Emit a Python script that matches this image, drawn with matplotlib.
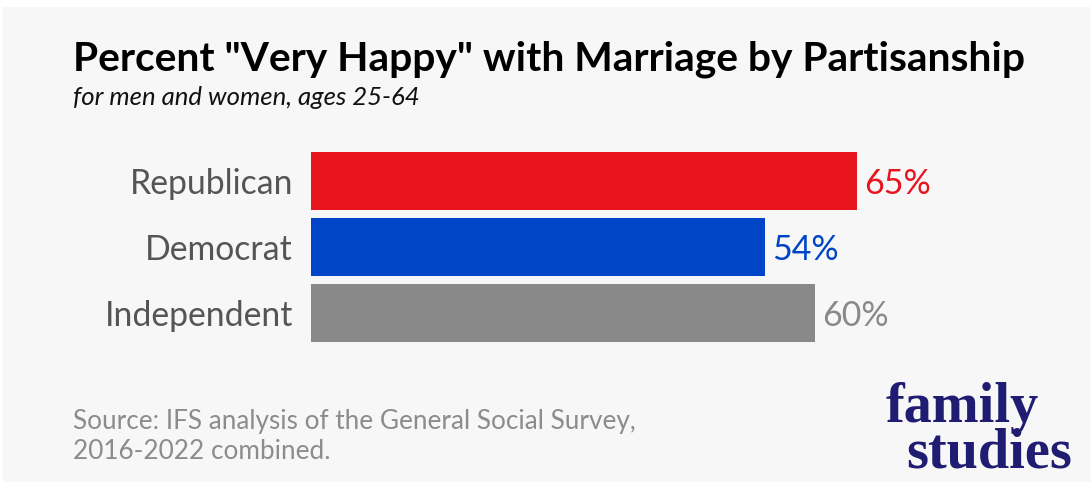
import matplotlib.pyplot as plt
from matplotlib.patches import Rectangle

# data
parties = ['Republican', 'Democrat', 'Independent']
very_happy = [65, 54, 60]
bar_colors = ['#e8141e', '#0044c8', '#898989']

W, H = 1091, 487
fig = plt.figure(figsize=(W / 100, H / 100), dpi=100, facecolor='white')

# light grey card behind everything
fig.patches.append(Rectangle((3 / W, 1 - 482 / H), 1 - 3 / W, (482 - 7) / H,
                             transform=fig.transFigure, facecolor='#f7f7f7',
                             edgecolor='none', zorder=-10))

ax = fig.add_axes([311 / W, 1 - 346 / H, 546 / W, 198 / H])
ax.set_facecolor('none')
ax.barh(range(len(parties)), very_happy, height=0.88, color=bar_colors)
ax.set_xlim(0, 65)
ax.set_ylim(2.5, -0.5)
ax.set_xticks([])
ax.set_yticks(range(len(parties)))
ax.set_yticklabels(parties, fontfamily='Lato', fontsize=24.3, color='#555555')
ax.tick_params(axis='y', length=0, pad=13)
for s in ax.spines.values():
    s.set_visible(False)

for i, v in enumerate(very_happy):
    ax.text(v + 0.9, i, f'{v}%', va='center_baseline', ha='left', fontfamily='Lato',
            fontsize=24.5, color=bar_colors[i], clip_on=False)

fig.text(73 / W, 1 - 70 / H, 'Percent "Very Happy" with Marriage by Partisanship',
         fontfamily='Lato', fontweight='bold', fontsize=29.3, color='black')
fig.text(73 / W, 1 - 105 / H, 'for men and women, ages 25-64',
         fontfamily='Lato', fontstyle='italic', fontsize=18.5, color='#111111')
fig.text(73 / W, 1 - 429 / H, 'Source: IFS analysis of the General Social Survey,',
         fontfamily='Lato', fontsize=18.8, color='#8c8c8c')
fig.text(73 / W, 1 - 459 / H, '2016-2022 combined.',
         fontfamily='Lato', fontsize=18.8, color='#8c8c8c')

# logo, two stacked words
fig.text(886 / W, 1 - 422 / H, 'family', fontfamily='Liberation Serif',
         fontweight='bold', fontsize=40.5, color='#1f1c72')
fig.text(906 / W, 1 - 468 / H, 'studies', fontfamily='Liberation Serif',
         fontweight='bold', fontsize=40.5, color='#1f1c72')

fig.savefig('out.png', dpi=100, facecolor='white')
